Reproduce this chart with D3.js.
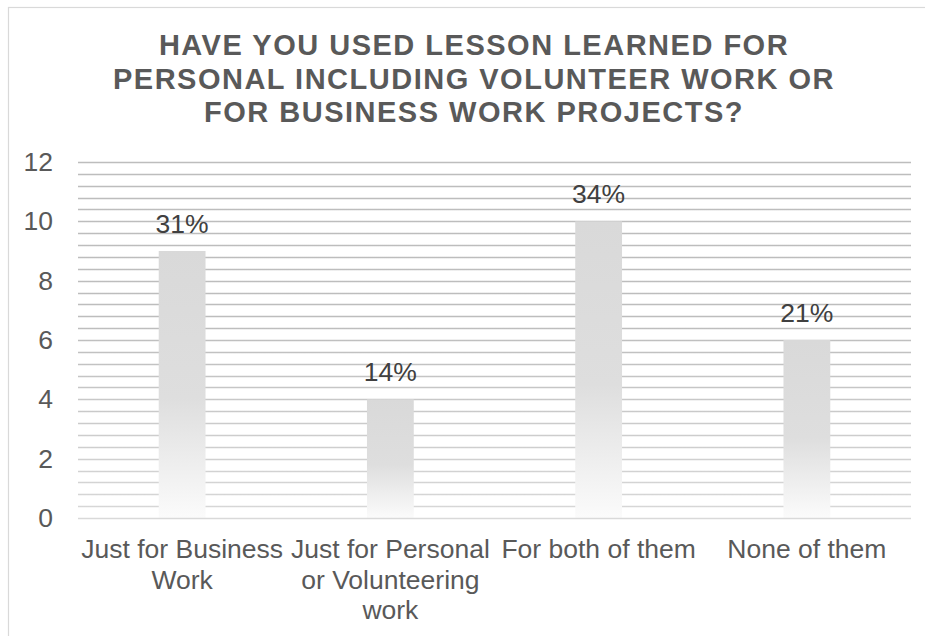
<!DOCTYPE html>
<html>
<head>
<meta charset="utf-8">
<script src="https://cdn.jsdelivr.net/npm/d3@7"></script>
<style>
  html, body { margin: 0; padding: 0; background: #ffffff; }
  svg { display: block; font-family: "Liberation Sans", Arial, sans-serif; }
</style>
</head>
<body>
<svg id="chart" width="925" height="636"></svg>
<script>
// Survey answers: number of respondents per option
const categories = [
  "Just for Business Work",
  "Just for Personal or Volunteering work",
  "For both of them",
  "None of them"
];
const counts = [9, 4, 10, 6];
const yTicks = [0, 2, 4, 6, 8, 10, 12];
const titleLines = [
  "HAVE YOU USED LESSON LEARNED FOR",
  "PERSONAL INCLUDING VOLUNTEER WORK OR",
  "FOR BUSINESS WORK PROJECTS?"
];

const W = 925, H = 636;
const margin = { top: 162, right: 14, bottom: 118, left: 78 };
const innerW = W - margin.left - margin.right;
const innerH = H - margin.top - margin.bottom;
const labelSize = 26.5;

const svg = d3.select("#chart");
const defs = svg.append("defs");

// Bars fade from light grey at the top to almost white at the base
const barGrad = defs.append("linearGradient")
  .attr("id", "barFill").attr("x1", 0).attr("y1", 0).attr("x2", 0).attr("y2", 1);
barGrad.append("stop").attr("offset", "0%").attr("stop-color", "#d9d9d9");
barGrad.append("stop").attr("offset", "55%").attr("stop-color", "#dedede");
barGrad.append("stop").attr("offset", "100%").attr("stop-color", "#fbfbfb");

// Gridlines fade towards the baseline
const gridGrad = defs.append("linearGradient")
  .attr("id", "gridStroke").attr("gradientUnits", "userSpaceOnUse")
  .attr("x1", 0).attr("y1", margin.top).attr("x2", 0).attr("y2", margin.top + innerH);
gridGrad.append("stop").attr("offset", "0%").attr("stop-color", "#bdbdbd");
gridGrad.append("stop").attr("offset", "100%").attr("stop-color", "#efefef");

// Chart area frame
svg.append("rect")
  .attr("x", 8.5).attr("y", 7.5).attr("width", W).attr("height", H)
  .attr("fill", "none").attr("stroke", "#d9d9d9").attr("stroke-width", 1.2);

// Title
svg.append("text")
  .attr("text-anchor", "middle")
  .attr("font-size", 29).attr("font-weight", "bold")
  .attr("letter-spacing", 1.5)
  .attr("fill", "#595959")
  .selectAll("tspan").data(titleLines).join("tspan")
  .attr("x", 474).attr("y", (d, i) => 55 + i * 33.5)
  .text(d => d);

const x = d3.scaleBand().domain(categories).range([0, innerW]).paddingInner(0).paddingOuter(0);
const y = d3.scaleLinear().domain([0, 12]).range([innerH, 0]);

const g = svg.append("g").attr("transform", `translate(${margin.left},${margin.top})`);

// Minor + major gridlines every 0.4 units
const gridVals = d3.range(1, 31).map(i => +(i * 0.4).toFixed(1));
g.append("g").selectAll("line").data(gridVals).join("line")
  .attr("x1", 0).attr("x2", innerW)
  .attr("y1", d => Math.round(y(d)) + 0.5).attr("y2", d => Math.round(y(d)) + 0.5)
  .attr("stroke", "url(#gridStroke)").attr("stroke-width", 1.4);

// Y axis labels
const yAxis = d3.axisLeft(y).tickValues(yTicks).tickSize(0).tickPadding(25);
const yAxisG = g.append("g").call(yAxis);
yAxisG.select(".domain").remove();
yAxisG.selectAll("text")
  .attr("font-size", labelSize).attr("fill", "#595959")
  .attr("font-family", "'Liberation Sans', Arial, sans-serif");

// Bars
const barW = x.bandwidth() / 4.45;
g.append("g").selectAll("rect").data(counts).join("rect")
  .attr("x", (d, i) => x(categories[i]) + (x.bandwidth() - barW) / 2)
  .attr("y", d => y(d))
  .attr("width", barW)
  .attr("height", d => innerH - y(d))
  .attr("fill", "url(#barFill)");

// Baseline
g.append("line")
  .attr("x1", 0).attr("x2", innerW)
  .attr("y1", innerH + 0.5).attr("y2", innerH + 0.5)
  .attr("stroke", "#d9d9d9").attr("stroke-width", 1.5);

// Percentage labels above bars
const total = d3.sum(counts);
g.append("g").selectAll("text").data(counts).join("text")
  .attr("x", (d, i) => x(categories[i]) + x.bandwidth() / 2)
  .attr("y", d => y(d) - 18)
  .attr("text-anchor", "middle")
  .attr("font-size", labelSize).attr("fill", "#404040")
  .text(d => Math.round(d / total * 100) + "%");

// Category labels, wrapped to the band width
const xAxis = d3.axisBottom(x).tickSize(0).tickPadding(0);
const xAxisG = g.append("g").attr("transform", `translate(0,${innerH})`).call(xAxis);
xAxisG.select(".domain").remove();
xAxisG.selectAll("text")
  .attr("font-size", labelSize).attr("fill", "#595959")
  .attr("font-family", "'Liberation Sans', Arial, sans-serif")
  .attr("dy", null).attr("y", 0)
  .each(function (label) {
    const t = d3.select(this);
    const words = label.split(" ");
    t.text(null);
    const lines = [];
    let cur = [];
    const probe = t.append("tspan");
    words.forEach(w => {
      const test = cur.concat(w).join(" ");
      probe.text(test);
      if (probe.node().getComputedTextLength() > x.bandwidth() - 2 && cur.length) {
        lines.push(cur.join(" "));
        cur = [w];
      } else {
        cur.push(w);
      }
    });
    lines.push(cur.join(" "));
    probe.remove();
    lines.forEach((ln, i) => {
      t.append("tspan").attr("x", 0).attr("y", 40 + i * 30.5).text(ln);
    });
  });
</script>
</body>
</html>
